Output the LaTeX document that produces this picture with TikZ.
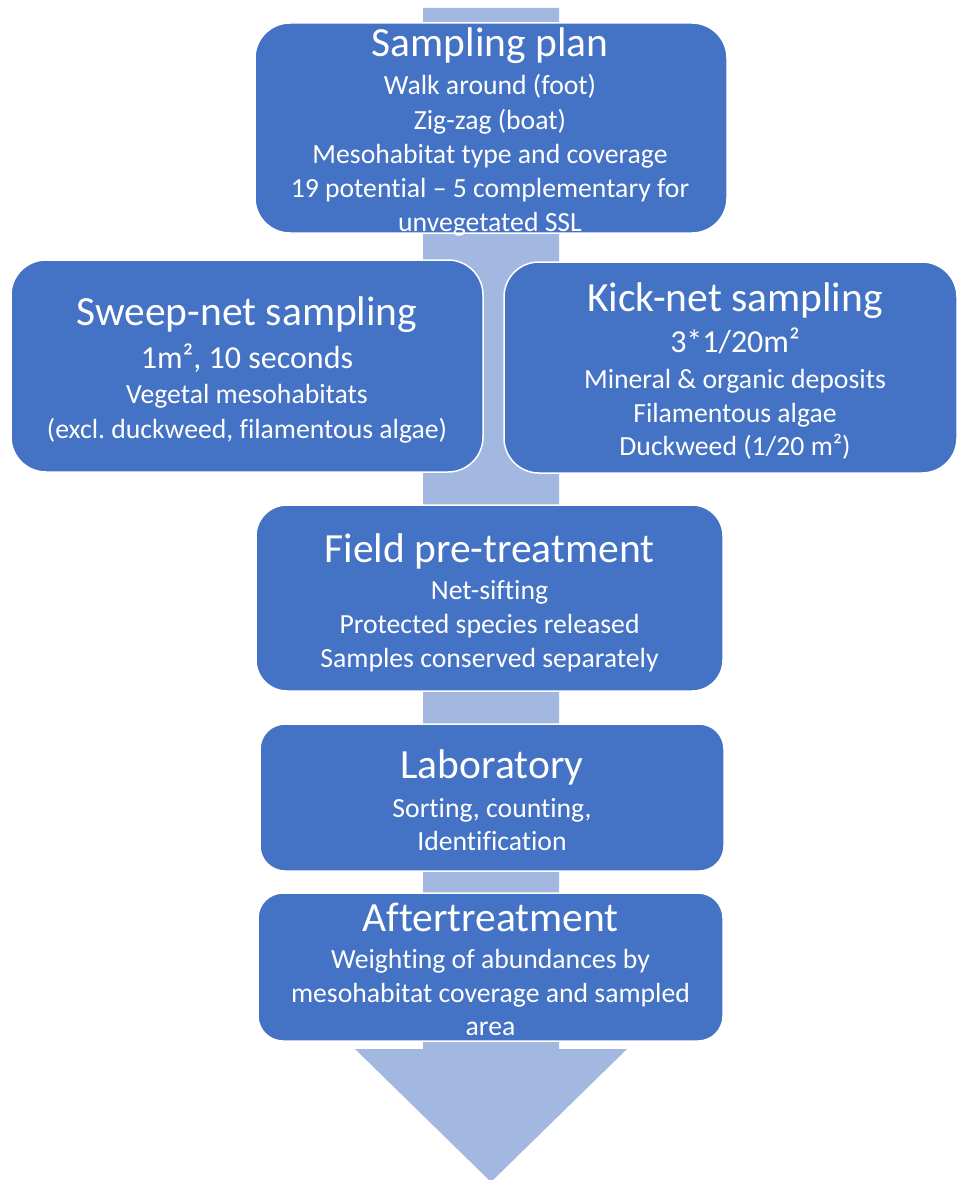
\documentclass[tikz,border=0pt]{standalone}
\usepackage{fontspec}
\setmainfont{Carlito}[Ligatures={NoCommon}]
\frenchspacing
\definecolor{boxblue}{HTML}{4472C4}
\definecolor{arrowblue}{HTML}{A2B8E1}
\tikzset{
  stagebox/.style={draw=white, line width=1.5pt, fill=boxblue, inner sep=0pt},
  ttl/.style={anchor=base, text=white, inner sep=0pt, font=\fontsize{41.5}{50}\selectfont},
  mid/.style={anchor=base, text=white, inner sep=0pt, font=\fontsize{32}{38}\selectfont},
  bdy/.style={anchor=base, text=white, inner sep=0pt, font=\fontsize{27.7}{34}\selectfont}
}
\begin{document}
\begin{tikzpicture}[x=1pt,y=-1pt]
\useasboundingbox (0,0) rectangle (958,1180);
% background arrow
\fill[arrowblue] (423,8) -- (559,8) -- (559,1049) -- (627,1049) -- (491,1182) -- (355,1049) -- (423,1049) -- cycle;
% boxes
\node[stagebox, minimum width=472pt, minimum height=210pt, rounded corners=35pt] (plan) at (491,128) {};
\node[stagebox, minimum width=472pt, minimum height=212pt, rounded corners=35pt] (sweep) at (247,366) {};
\node[stagebox, minimum width=453pt, minimum height=211pt, rounded corners=35pt] (kick) at (730.5,367.5) {};
\node[stagebox, minimum width=467pt, minimum height=186pt, rounded corners=31pt] (field) at (489.5,598) {};
\node[stagebox, minimum width=464pt, minimum height=147pt, rounded corners=25pt] (lab) at (492,797.5) {};
\node[stagebox, minimum width=465pt, minimum height=148pt, rounded corners=25pt] (after) at (490.5,967) {};
% Sampling plan
\node[ttl] (planT) at (490,57) {Sampling plan};
\node[bdy] (planA) at (490,95) {Walk around (foot)};
\node[bdy] (planB) at (490,129) {Zig-zag (boat)};
\node[bdy] (planC) at (490,163) {Mesohabitat type and coverage};
\node[bdy] (planD) at (490,197) {19 potential – 5 complementary for};
\node[bdy] (planE) at (490,231) {unvegetated SSL};
% Sweep-net
\node[ttl] (sweepT) at (247,325) {Sweep-net sampling};
\node[mid] (sweepA) at (247,368) {1m², 10 seconds};
\node[bdy] (sweepB) at (247,403) {Vegetal mesohabitats};
\node[bdy] (sweepC) at (247,438) {(excl. duckweed, filamentous algae)};
% Kick-net
\node[ttl] (kickT) at (735,311) {Kick-net sampling};
\node[mid] (kickA) at (735,352) {3*1/20m²};
\node[bdy] (kickB) at (735,388) {Mineral \& organic deposits};
\node[bdy] (kickC) at (735,422) {Filamentous algae};
\node[bdy] (kickD) at (735,455) {Duckweed (1/20 m²)};
% Field
\node[ttl] (fieldT) at (489.5,562) {Field pre-treatment};
\node[bdy] (fieldA) at (489.5,599) {Net-sifting};
\node[bdy] (fieldB) at (489.5,633) {Protected species released};
\node[bdy] (fieldC) at (489.5,667) {Samples conserved separately};
% Laboratory
\node[ttl] (labT) at (492,778) {Laboratory};
\node[bdy] (labA) at (492,817) {Sorting, counting,};
\node[bdy] (labB) at (492,850) {Identification};
% Aftertreatment
\node[ttl] (afterT) at (490.5,931) {Aftertreatment};
\node[bdy] (afterA) at (490.5,968) {Weighting of abundances by};
\node[bdy] (afterB) at (490.5,1002) {mesohabitat coverage and sampled};
\node[bdy] (afterC) at (490.5,1035) {area};
\end{tikzpicture}
\end{document}
